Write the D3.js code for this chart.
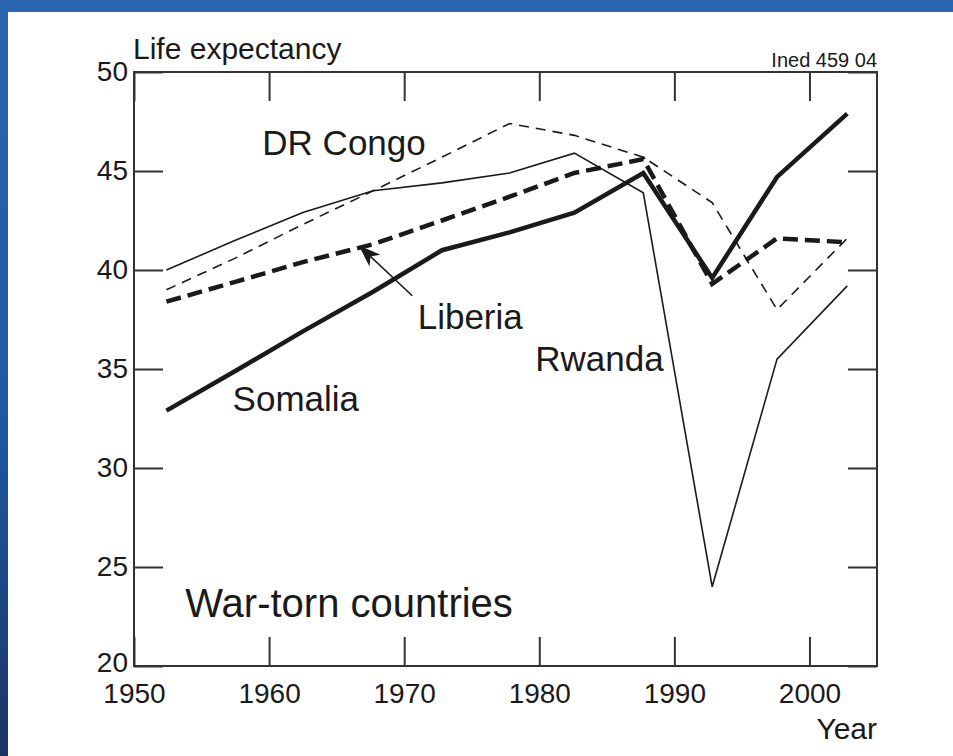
<!DOCTYPE html>
<html>
<head>
<meta charset="utf-8">
<script src="https://cdn.jsdelivr.net/npm/d3@7"></script>
<style>
  html, body { margin: 0; padding: 0; background: #fff; }
  svg { display: block; }
</style>
</head>
<body>
<svg id="chart" width="953" height="756"></svg>
<script>
// ---- data ----
const years = [1952.4, 1957.5, 1962.5, 1967.7, 1972.8, 1977.8, 1982.6, 1987.7, 1992.8, 1997.6, 2002.8];
const rwanda  = [40.0, 41.5, 42.9, 44.0, 44.4, 44.9, 45.9, 43.9, 24.0, 35.5, 39.2];
const drCongo = [39.0, 40.6, 42.3, 44.0, 45.7, 47.4, 46.8, 45.7, 43.4, 38.0, 41.6];
const liberia = [38.4, 39.4, 40.4, 41.3, 42.5, 43.7, 44.9, 45.6, 39.3, 41.6, 41.4];
const somalia = [32.9, 34.9, 36.9, 38.9, 41.0, 41.9, 42.9, 44.9, 39.6, 44.7, 47.9];
const xTicks = [1950, 1960, 1970, 1980, 1990, 2000];
const yTicks = [20, 25, 30, 35, 40, 45, 50];
const seriesNames = ["Rwanda", "DR Congo", "Liberia", "Somalia"];

(function () {
// ---- layout ----
const W = 953, H = 756;
const pL = 134, pR = 877, pT = 72, pB = 666;
const svg = d3.select("#chart");
const FONT = "'Liberation Sans', Arial, Helvetica, sans-serif";
const INK = "#1a1a1a";

// slide background
const defs = svg.append("defs");
const grad = defs.append("linearGradient").attr("id", "bg").attr("x1", 0).attr("y1", 0).attr("x2", 0).attr("y2", 1);
grad.append("stop").attr("offset", "0%").attr("stop-color", "#2c66b0");
grad.append("stop").attr("offset", "55%").attr("stop-color", "#1f59a3");
grad.append("stop").attr("offset", "100%").attr("stop-color", "#1b3563");
svg.append("rect").attr("width", W).attr("height", H).attr("fill", "url(#bg)");
svg.append("rect").attr("x", 8).attr("y", 12).attr("width", W - 8).attr("height", H - 12).attr("fill", "#fff");

const x = d3.scaleLinear().domain([1950, 2005]).range([pL, pR]);
const y = d3.scaleLinear().domain([20, 50]).range([pB, pT]);

// arrow marker
defs.append("marker").attr("id", "arr").attr("viewBox", "0 0 22 16")
  .attr("refX", 21).attr("refY", 8).attr("markerWidth", 22).attr("markerHeight", 16)
  .attr("markerUnits", "userSpaceOnUse").attr("orient", "auto")
  .append("path").attr("d", "M0,0 L22,8 L0,16 L6,8 Z").attr("fill", INK);

// axes
function styleAxis(g) {
  g.select(".domain").remove();
  g.selectAll(".tick line").attr("stroke", "#333").attr("stroke-width", 2);
  g.selectAll(".tick text").attr("fill", INK).style("font-family", FONT).style("font-size", "28px");
}
const TL = 29;
svg.append("g").attr("transform", `translate(0,${pB})`)
  .call(d3.axisBottom(x).tickValues(xTicks).tickSizeInner(-TL).tickSizeOuter(0).tickPadding(17).tickFormat(d3.format("d")))
  .call(styleAxis);
svg.append("g").attr("transform", `translate(0,${pT})`)
  .call(d3.axisTop(x).tickValues(xTicks).tickSizeInner(-TL).tickSizeOuter(0).tickFormat(""))
  .call(styleAxis);
const yAx = svg.append("g").attr("transform", `translate(${pL},0)`)
  .call(d3.axisLeft(y).tickValues(yTicks).tickSizeInner(-TL).tickSizeOuter(0).tickPadding(6).tickFormat(d3.format("d")))
  .call(styleAxis);
yAx.selectAll(".tick text").filter(d => d === 20).attr("dy", "0.2em");
svg.append("g").attr("transform", `translate(${pR},0)`)
  .call(d3.axisRight(y).tickValues(yTicks).tickSizeInner(-TL).tickSizeOuter(0).tickFormat(""))
  .call(styleAxis);

svg.append("rect").attr("x", pL).attr("y", pT).attr("width", pR - pL).attr("height", pB - pT)
  .attr("fill", "none").attr("stroke", "#333").attr("stroke-width", 2);

// lines
const styles = {
  "Rwanda":   { data: rwanda,  w: 1.6, dash: null },
  "DR Congo": { data: drCongo, w: 1.6, dash: "10,7" },
  "Liberia":  { data: liberia, w: 4.5, dash: "15,7" },
  "Somalia":  { data: somalia, w: 4.5, dash: null }
};
const line = d3.line().x(d => x(d[0])).y(d => y(d[1]));
seriesNames.forEach(name => {
  const s = styles[name];
  svg.append("path")
    .datum(years.map((yr, i) => [yr, s.data[i]]))
    .attr("d", line)
    .attr("fill", "none").attr("stroke", INK)
    .attr("stroke-width", s.w)
    .attr("stroke-linejoin", "miter")
    .attr("stroke-dasharray", s.dash);
});

// annotations (data coordinates)
const labels = [
  { t: "DR Congo", yr: 1959.5, v: 45.8, size: 35 },
  { t: "Liberia",  yr: 1971.0, v: 37.0, size: 35 },
  { t: "Rwanda",   yr: 1979.7, v: 34.9, size: 35 },
  { t: "Somalia",  yr: 1957.3, v: 32.9, size: 35 },
  { t: "War-torn countries", yr: 1953.8, v: 22.45, size: 40 }
];
labels.forEach(l => {
  svg.append("text").attr("x", x(l.yr)).attr("y", y(l.v))
    .attr("fill", INK).style("font-family", FONT).style("font-size", l.size + "px").text(l.t);
});

// arrow from the Liberia label to its line
svg.append("line")
  .attr("x1", x(1970.6)).attr("y1", y(38.7))
  .attr("x2", x(1966.7)).attr("y2", y(41.2))
  .attr("stroke", INK).attr("stroke-width", 1.6).attr("marker-end", "url(#arr)");

// axis titles & source
svg.append("text").attr("x", 133).attr("y", 59).attr("fill", INK)
  .style("font-family", FONT).style("font-size", "30px").text("Life expectancy");
svg.append("text").attr("x", pR).attr("y", 67).attr("text-anchor", "end").attr("fill", INK)
  .style("font-family", FONT).style("font-size", "20px").text("Ined 459 04");
svg.append("text").attr("x", pR).attr("y", 739).attr("text-anchor", "end").attr("fill", INK)
  .style("font-family", FONT).style("font-size", "30px").text("Year");
})();
</script>
</body>
</html>
